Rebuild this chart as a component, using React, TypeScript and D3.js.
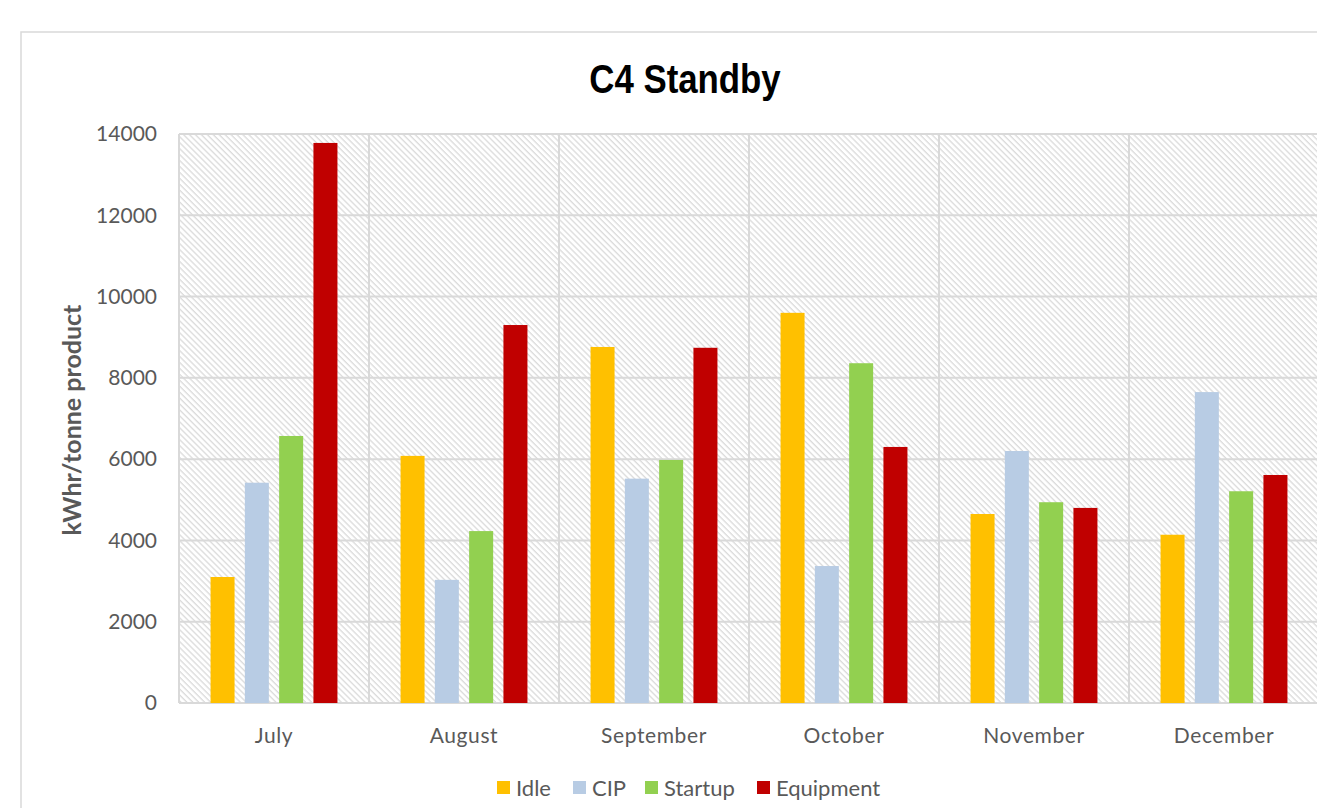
import React, { useEffect, useRef } from 'react';
import * as d3 from 'd3';

// chart values
const months = ['July', 'August', 'September', 'October', 'November', 'December'];
const seriesNames = ['Idle', 'CIP', 'Startup', 'Equipment'];
const seriesColors = ['#FFC000', '#B8CCE4', '#92D050', '#C00000'];
const idle = [3100, 6080, 8760, 9600, 4650, 4140];
const cip = [5420, 3030, 5520, 3370, 6200, 7650];
const startup = [6570, 4230, 5980, 8360, 4940, 5210];
const equipment = [13780, 9300, 8740, 6300, 4800, 5610];
const yTicks = [0, 2000, 4000, 6000, 8000, 10000, 12000, 14000];

const W = 1317;
const H = 808;

function App() {
  const ref = useRef<SVGSVGElement>(null);

  useEffect(() => {
    const svg = d3.select(ref.current);
    svg.selectAll('*').remove();

    const values = [idle, cip, startup, equipment];
    const margin = { left: 179, top: 134, right: 1319, bottom: 703 };

    // hatch pattern for the plot background
    const defs = svg.append('defs');
    const pat = defs.append('pattern')
      .attr('id', 'hatch')
      .attr('patternUnits', 'userSpaceOnUse')
      .attr('width', 4.2)
      .attr('height', 4.2)
      .attr('patternTransform', 'rotate(-45)');
    pat.append('line')
      .attr('x1', 1).attr('y1', 0).attr('x2', 1).attr('y2', 4.2)
      .attr('stroke', '#dcdcdc').attr('stroke-width', 1.4);

    // outer chart border (runs off the right and bottom of the page)
    svg.append('rect')
      .attr('x', 21).attr('y', 32)
      .attr('width', 1340).attr('height', 800)
      .attr('fill', '#fff')
      .attr('stroke', '#d9d9d9').attr('stroke-width', 1.5);

    const x = d3.scaleBand().domain(months).range([margin.left, margin.right]);
    const xs = d3.scaleBand().domain(seriesNames).range([0, x.bandwidth()])
      .paddingInner(0.3).paddingOuter(0.92);
    const y = d3.scaleLinear().domain([0, 14000]).range([margin.bottom, margin.top]);

    svg.append('rect')
      .attr('x', margin.left).attr('y', margin.top)
      .attr('width', margin.right - margin.left)
      .attr('height', margin.bottom - margin.top)
      .attr('fill', 'url(#hatch)');

    // horizontal gridlines
    svg.append('g').selectAll('line').data(yTicks).join('line')
      .attr('x1', margin.left).attr('x2', margin.right)
      .attr('y1', d => y(d)).attr('y2', d => y(d))
      .attr('stroke', '#d9d9d9').attr('stroke-width', 2);

    // vertical gridlines between months
    svg.append('g').selectAll('line').data(months.concat(['end'])).join('line')
      .attr('x1', (d, i) => margin.left + i * x.step())
      .attr('x2', (d, i) => margin.left + i * x.step())
      .attr('y1', margin.top).attr('y2', margin.bottom)
      .attr('stroke', '#d9d9d9').attr('stroke-width', 2);

    // bars
    seriesNames.forEach((s, si) => {
      svg.append('g').selectAll('rect').data(values[si]).join('rect')
        .attr('x', (d, i) => (x(months[i]) as number) + (xs(s) as number))
        .attr('y', d => y(d))
        .attr('width', xs.bandwidth())
        .attr('height', d => y(0) - y(d))
        .attr('fill', seriesColors[si]);
    });

    const font = 'Lato, "Open Sans", sans-serif';

    // y tick labels
    svg.append('g').selectAll('text').data(yTicks).join('text')
      .attr('x', 157).attr('y', d => y(d))
      .attr('dy', '0.35em')
      .attr('text-anchor', 'end')
      .attr('font-family', font).attr('font-size', 21)
      .attr('fill', '#595959')
      .text(d => d);

    // x labels
    svg.append('g').selectAll('text').data(months).join('text')
      .attr('x', d => (x(d) as number) + x.bandwidth() / 2)
      .attr('y', 743)
      .attr('text-anchor', 'middle')
      .attr('font-family', font).attr('font-size', 21)
      .attr('letter-spacing', 0.6)
      .attr('fill', '#595959')
      .text(d => d);

    // title (narrow bold face, squeezed horizontally)
    svg.append('text')
      .attr('transform', 'translate(685, 93) scale(0.87, 1)')
      .attr('text-anchor', 'middle')
      .attr('font-family', '"Liberation Sans", Arial, sans-serif')
      .attr('font-weight', 'bold').attr('font-size', 40)
      .attr('fill', '#000')
      .text('C4 Standby');

    // y axis label
    svg.append('text')
      .attr('transform', 'translate(81, 420) rotate(-90)')
      .attr('text-anchor', 'middle')
      .attr('font-family', font).attr('font-weight', 'bold').attr('font-size', 25)
      .attr('fill', '#595959')
      .text('kWhr/tonne product');

    // legend
    const legendX = [497, 573, 645, 757];
    const lg = svg.append('g').selectAll('g').data(seriesNames).join('g')
      .attr('transform', (d, i) => `translate(${legendX[i]}, 781)`);
    lg.append('rect')
      .attr('width', 13).attr('height', 13)
      .attr('fill', (d, i) => seriesColors[i]);
    lg.append('text')
      .attr('x', 19).attr('y', 7)
      .attr('dy', '0.36em')
      .attr('font-family', font).attr('font-size', 22)
      .attr('fill', '#595959')
      .text(d => d);
  }, []);

  return (
    <svg ref={ref} width={W} height={H}
      style={{ position: 'absolute', left: 0, top: 0, display: 'block' }} />
  );
}

export default App;
